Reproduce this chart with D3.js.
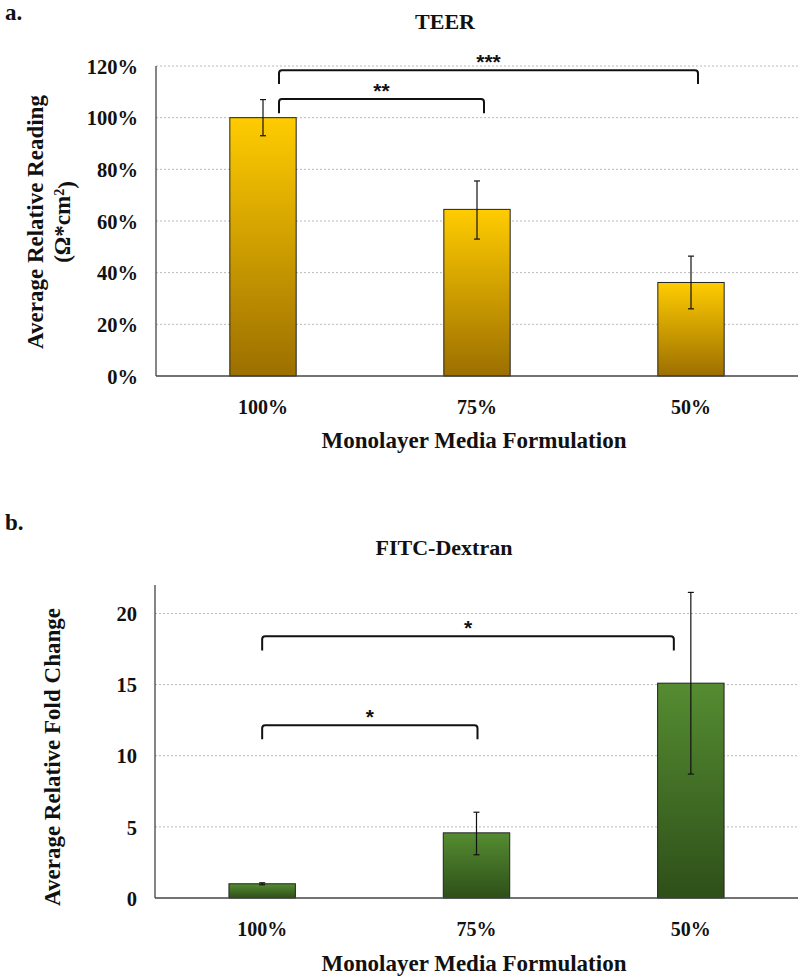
<!DOCTYPE html>
<html><head><meta charset="utf-8">
<script src="https://cdn.jsdelivr.net/npm/d3@7"></script>
<style>body{margin:0;background:#fff}svg{display:block}text{font-family:"Liberation Serif","Times New Roman",serif;font-weight:bold;fill:#111}</style>
</head><body>
<script>
const categories = ["100%", "75%", "50%"];
// Panel a: TEER
const teerValues = [1.00, 0.645, 0.362];
const teerErrLow = [0.93, 0.53, 0.26];
const teerErrHigh = [1.07, 0.755, 0.464];
const teerTicks = [0, 0.2, 0.4, 0.6, 0.8, 1.0, 1.2];
const teerBrackets = [
  {from: 0, to: 1, y: 1.072, leg: 1.017, label: "**"},
  {from: 0, to: 2, y: 1.184, leg: 1.13, label: "***"}
];
// Panel b: FITC-Dextran
const fitcValues = [1.0, 4.58, 15.1];
const fitcErrLow = [0.93, 3.04, 8.71];
const fitcErrHigh = [1.07, 6.03, 21.48];
const fitcTicks = [0, 5, 10, 15, 20];
const fitcBrackets = [
  {from: 0, to: 1, y: 12.15, leg: 11.15, label: "*"},
  {from: 0, to: 2, y: 18.4, leg: 17.4, label: "*"}
];

const svg = d3.select("body").append("svg").attr("width", 800).attr("height", 977);
const defs = svg.append("defs");
function grad(id, top, bottom) {
  const g = defs.append("linearGradient").attr("id", id).attr("x1", 0).attr("y1", 0).attr("x2", 0).attr("y2", 1);
  g.append("stop").attr("offset", "0%").attr("stop-color", top);
  g.append("stop").attr("offset", "100%").attr("stop-color", bottom);
}
grad("gy", "#FFCC00", "#9C6F00");
grad("gg", "#558C31", "#2E4F19");

function panel(o) {
  const x = d3.scaleBand().domain(categories).range([o.left, o.right]).paddingInner(0.69).paddingOuter(0.345);
  const y = d3.scaleLinear().domain(o.domain).range([o.bottom, o.top]);
  const g = svg.append("g");
  g.selectAll(".grid").data(o.ticks.filter(t => t > 0)).join("line")
    .attr("x1", o.left).attr("x2", o.right)
    .attr("y1", d => y(d)).attr("y2", d => y(d))
    .attr("stroke", "#b8b8b8").attr("stroke-width", 1).attr("stroke-dasharray", "2,2");
  const ya = g.append("g").attr("transform", `translate(${o.left},0)`)
    .call(d3.axisLeft(y).tickValues(o.ticks).tickFormat(o.fmt).tickSize(0).tickPadding(18));
  ya.select(".domain").remove();
  ya.selectAll("text").style("font-size", "20.5px").attr("dy", "0.35em").style("fill", "#111");
  g.append("line").attr("x1", o.left).attr("x2", o.left).attr("y1", o.top).attr("y2", o.bottom).attr("stroke", "#444").attr("stroke-width", 1.3);
  g.selectAll(".bar").data(o.values).join("rect")
    .attr("x", (d, i) => x(categories[i])).attr("width", x.bandwidth())
    .attr("y", d => y(d)).attr("height", d => o.bottom - y(d))
    .attr("fill", `url(#${o.grad})`).attr("stroke", "#222").attr("stroke-width", 1);
  g.append("line").attr("x1", o.left).attr("x2", o.right).attr("y1", o.bottom).attr("y2", o.bottom).attr("stroke", "#444").attr("stroke-width", 1.3);
  const xa = g.append("g").attr("transform", `translate(0,${o.bottom})`)
    .call(d3.axisBottom(x).tickSize(0).tickPadding(24));
  xa.select(".domain").remove();
  xa.selectAll("text").style("font-size", "20px").style("fill", "#111");
  o.values.forEach((v, i) => {
    const cx = x(categories[i]) + x.bandwidth() / 2;
    g.append("line").attr("x1", cx).attr("x2", cx).attr("y1", y(o.lo[i])).attr("y2", y(o.hi[i])).attr("stroke", "#111").attr("stroke-width", 1.2);
    [o.lo[i], o.hi[i]].forEach(e => g.append("line").attr("x1", cx - 3).attr("x2", cx + 3).attr("y1", y(e)).attr("y2", y(e)).attr("stroke", "#111").attr("stroke-width", 1.2));
  });
  o.brackets.forEach((b, k) => {
    const x1 = x(categories[b.from]) + x.bandwidth() / 2 + o.bOff[k][0];
    const x2 = x(categories[b.to]) + x.bandwidth() / 2 + o.bOff[k][1];
    const yy = y(b.y), yl = y(b.leg), r = 3;
    g.append("path").attr("d", `M${x1},${yl} V${yy + r} Q${x1},${yy} ${x1 + r},${yy} H${x2 - r} Q${x2},${yy} ${x2},${yy + r} V${yl}`)
      .attr("fill", "none").attr("stroke", "#111").attr("stroke-width", 2);
    g.append("text").attr("x", (x1 + x2) / 2).attr("y", yy - 1).attr("text-anchor", "middle")
      .style("font-family", "'Liberation Sans',Arial,sans-serif").style("font-size", "21px").style("font-weight", "bold").text(b.label);
  });
  svg.append("text").attr("x", o.titleX).attr("y", o.titleY).attr("text-anchor", "middle").style("font-size", "22px").text(o.title);
  svg.append("text").attr("x", 5).attr("y", o.letterY).style("font-size", "23px").text(o.letter);
  svg.append("text").attr("x", 474).attr("y", o.xTitleY).attr("text-anchor", "middle").style("font-size", "23px").text("Monolayer Media Formulation");
  o.yTitle.forEach(t => {
    const tx = svg.append("text").attr("transform", `translate(${t.x},${o.yTitleC}) rotate(-90)`).attr("text-anchor", "middle").style("font-size", "23px");
    if (t.sup) { tx.text(t.text); tx.append("tspan").attr("dy", "-0.45em").style("font-size", "14px").text(t.sup); tx.append("tspan").attr("dy", "0.45em").text(t.after); }
    else tx.text(t.text);
  });
}

panel({
  left: 156, right: 798, top: 66, bottom: 376, domain: [0, 1.2], ticks: teerTicks,
  fmt: d => Math.round(d * 100) + "%", values: teerValues, lo: teerErrLow, hi: teerErrHigh,
  grad: "gy", brackets: teerBrackets, bOff: [[16, 7], [16, 7]],
  title: "TEER", titleX: 445, titleY: 29, letter: "a.", letterY: 20, xTitleY: 448,
  yTitleC: 222, yTitle: [{x: 43, text: "Average Relative Reading"}, {x: 70, text: "(Ω*cm", sup: "2", after: ")"}]
});
panel({
  left: 155, right: 798, top: 585, bottom: 898, domain: [0, 22], ticks: fitcTicks,
  fmt: d3.format("d"), values: fitcValues, lo: fitcErrLow, hi: fitcErrHigh,
  grad: "gg", brackets: fitcBrackets, bOff: [[0, 1], [0, -17]],
  title: "FITC-Dextran", titleX: 444, titleY: 555, letter: "b.", letterY: 530, xTitleY: 971,
  yTitleC: 757, yTitle: [{x: 60, text: "Average Relative Fold Change"}]
});
</script>
</body></html>
